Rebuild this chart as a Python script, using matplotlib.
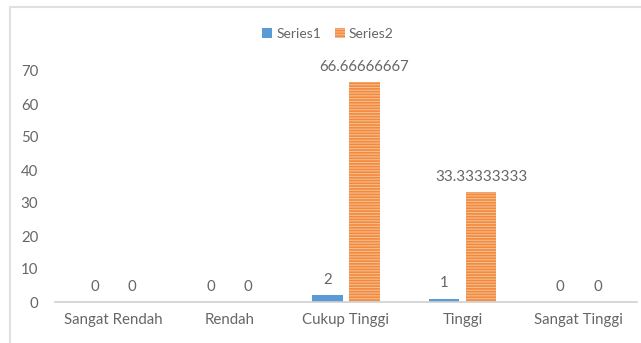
import matplotlib.pyplot as plt
import numpy as np
from matplotlib.patches import Rectangle

plt.rcParams['font.family'] = ['Lato', 'DejaVu Sans']
plt.rcParams['hatch.linewidth'] = 0.8

categories = ['Sangat Rendah', 'Rendah', 'Cukup Tinggi', 'Tinggi', 'Sangat Tinggi']
series1 = [0, 0, 2, 1, 0]
series2 = [0, 0, 66.66666667, 33.33333333, 0]
labels1 = ['0', '0', '2', '1', '0']
labels2 = ['0', '0', '66.66666667', '33.33333333', '0']

txt = '#666666'
fig = plt.figure(figsize=(6.41, 3.43), dpi=100)
ax = fig.add_axes([55 / 641, 1 - 302 / 343, 582 / 641, 231 / 343])

x = np.arange(len(categories))
w = 0.26
off = 0.16
ax.bar(x - off, series1, w, color='#5B9BD5', label='Series1')
ax.bar(x + off, series2, w, color='#F28A3E', edgecolor='#F8BE90',
       linewidth=0, hatch='------', label='Series2')

for i in range(len(categories)):
    ax.text(x[i] - off, series1[i] + 2.5, labels1[i], ha='center', va='bottom',
            fontsize=10.8, color=txt)
    ax.text(x[i] + off, series2[i] + 2.5, labels2[i], ha='center', va='bottom',
            fontsize=10.8, color=txt)

ax.set_xlim(-0.5, len(categories) - 0.5)
ax.set_ylim(0, 70)
ax.set_yticks(range(0, 71, 10))
ax.set_xticks(x)
ax.set_xticklabels(categories)
ax.tick_params(axis='both', length=0, colors=txt, labelsize=10.8)
ax.tick_params(axis='y', pad=12)
ax.tick_params(axis='x', pad=8)
for s in ['top', 'right', 'left']:
    ax.spines[s].set_visible(False)
ax.spines['bottom'].set_color('#D0D0D0')
ax.spines['bottom'].set_linewidth(1.2)

ax.legend(loc='center', bbox_to_anchor=(328 / 641, 1 - 34 / 343),
          bbox_transform=fig.transFigure, ncol=2, frameon=False,
          fontsize=10, handlelength=0.7, handleheight=0.7, handletextpad=0.3,
          columnspacing=1.0, labelcolor=txt)

fig.patches.append(Rectangle((10 / 641, -0.1), 1.0, 1 - 7 / 343 + 0.1,
                             transform=fig.transFigure, fill=False,
                             edgecolor='#E0E0E0', linewidth=1.5))

fig.savefig('out.png', dpi=100)
